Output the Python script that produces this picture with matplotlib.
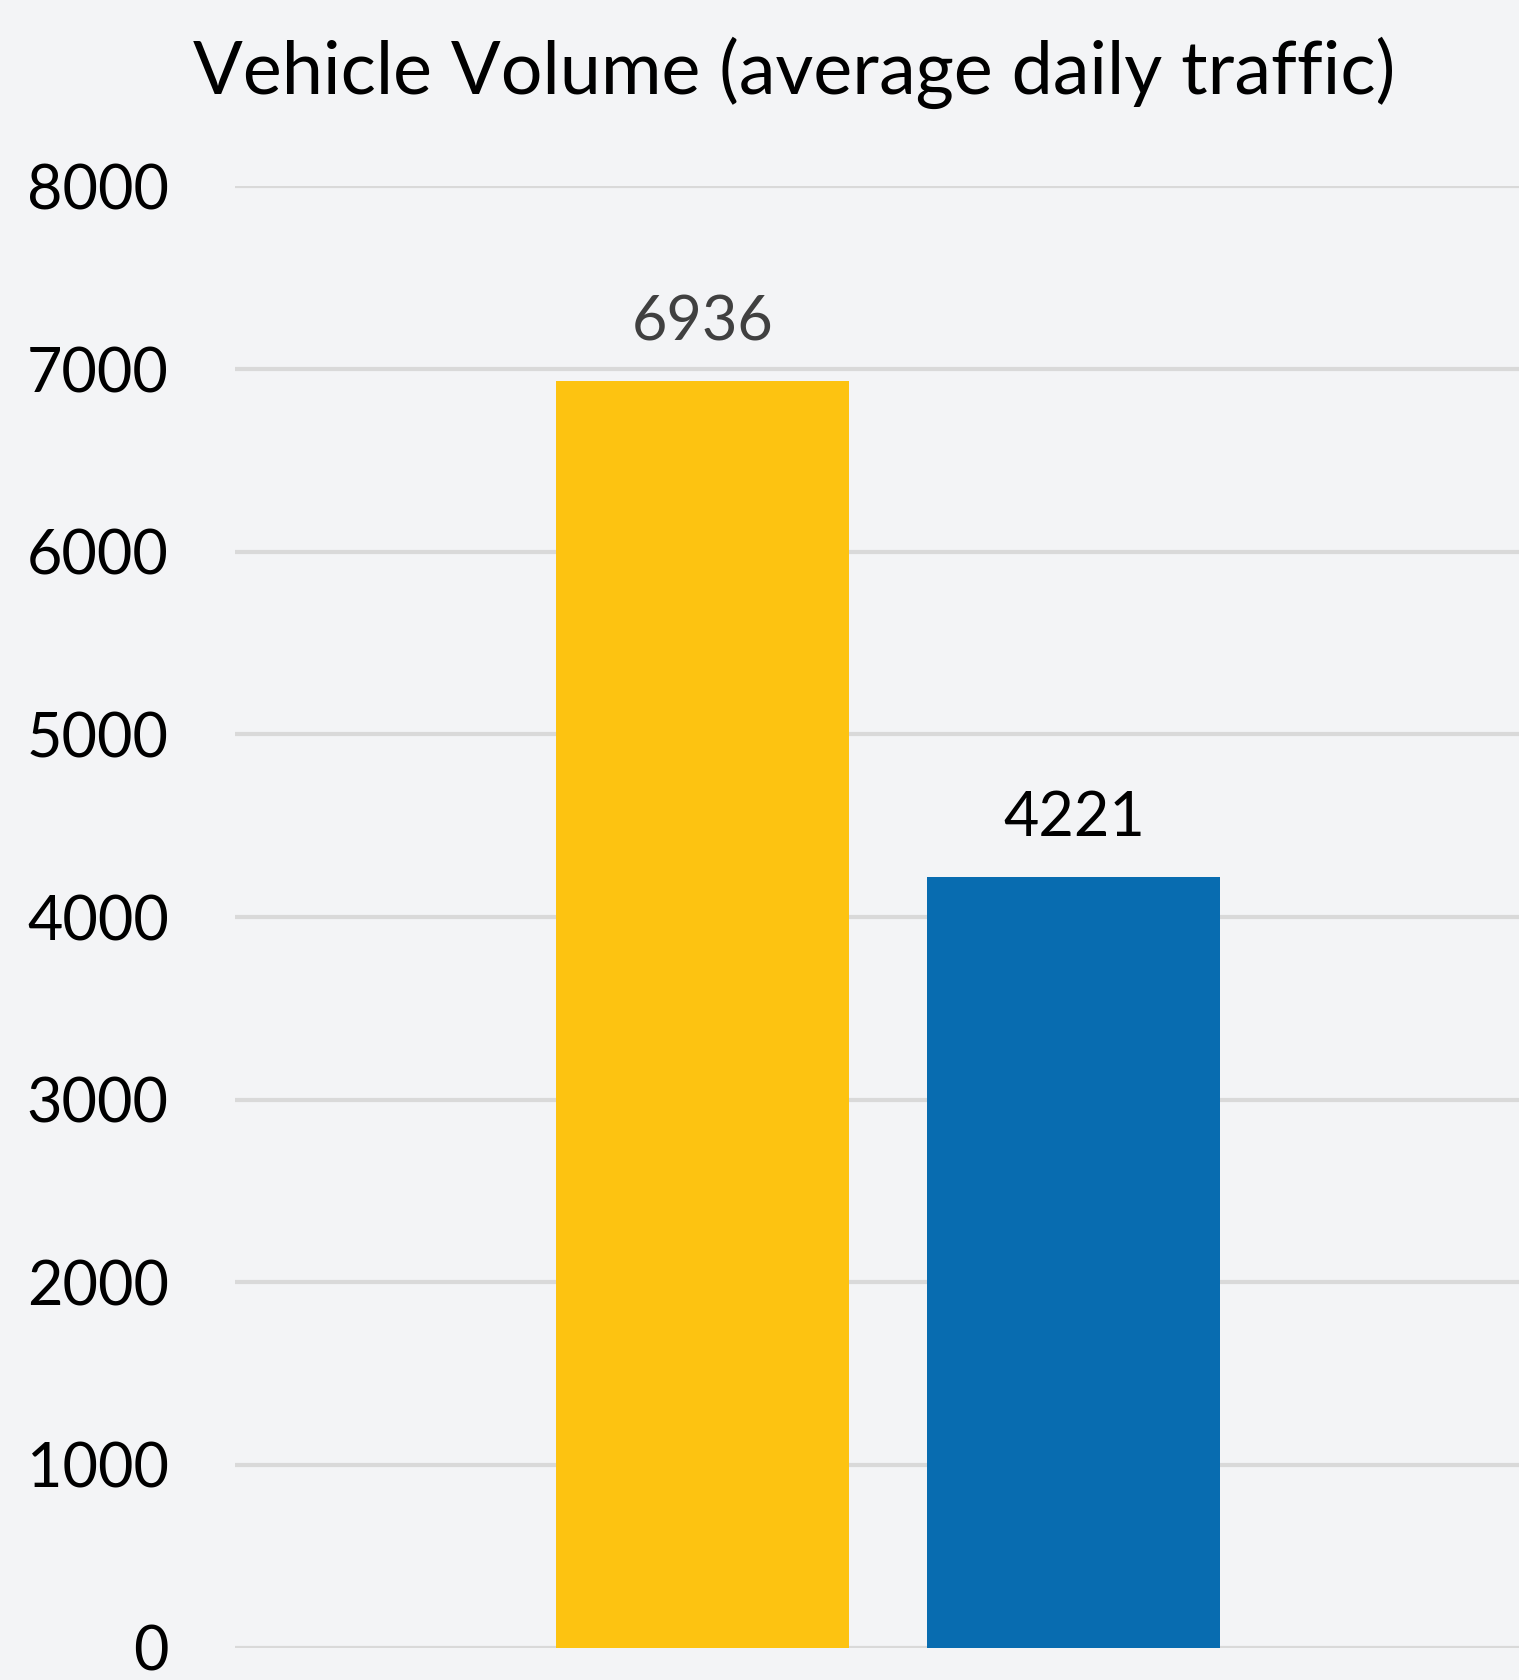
import matplotlib
matplotlib.use("Agg")
import matplotlib.pyplot as plt

categories = ["Before", "After"]
volumes = [6936, 4221]
bar_colors = ["#FDC311", "#086CB0"]
label_colors = ["#404040", "#000000"]
y_ticks = [0, 1000, 2000, 3000, 4000, 5000, 6000, 7000, 8000]

plt.rcParams["font.family"] = ["Lato", "DejaVu Sans"]

bg = "#F3F4F6"
fig = plt.figure(figsize=(15.19, 16.8), dpi=100, facecolor=bg)
ax = fig.add_axes([0.155, 0.0193, 0.845, 0.8697], facecolor=bg)

x = list(range(len(categories)))
bars = ax.bar(x, volumes, width=0.79, color=bar_colors, zorder=3)

for xi, v, c in zip(x, volumes, label_colors):
    ax.annotate(f"{v}", (xi, v), xytext=(0, 21), textcoords="offset points",
                ha="center", va="bottom", fontsize=44, color=c)

ax.set_xlim(-1.26, 2.2)
ax.set_ylim(0, 8000)
ax.set_yticks(y_ticks)
ax.set_yticklabels([str(t) for t in y_ticks])
ax.set_xticks([])
ax.tick_params(axis="y", length=0, pad=48, labelsize=44, labelcolor="#000000")
ax.yaxis.grid(True, color="#D9D9D9", linewidth=3, zorder=0)
ax.set_axisbelow(True)
for s in ax.spines.values():
    s.set_visible(False)

fig.text(0.523, 0.944, "Vehicle Volume (average daily traffic)",
         ha="center", va="baseline", fontsize=53, color="#000000")

fig.savefig("out.png", dpi=100, facecolor=bg)
